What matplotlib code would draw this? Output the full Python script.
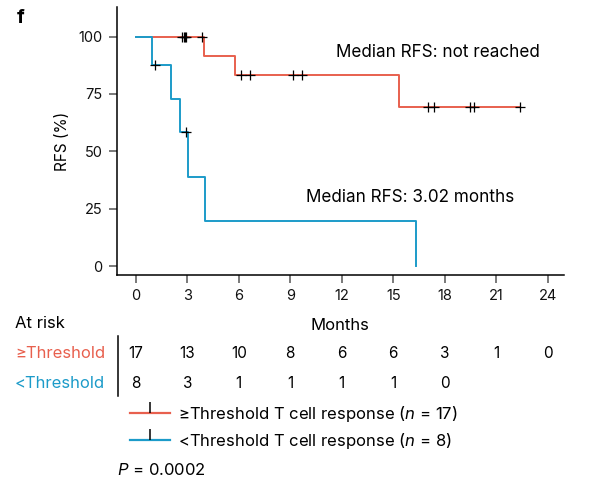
import numpy as np
import matplotlib
matplotlib.use('Agg')
import matplotlib.pyplot as plt
from matplotlib.lines import Line2D

plt.rcParams['font.family'] = ['Inter', 'DejaVu Sans']
plt.rcParams['mathtext.fontset'] = 'custom'
plt.rcParams['mathtext.rm'] = 'Inter'
plt.rcParams['mathtext.it'] = 'Inter:italic'

# patient follow-up (months)
hi_events = [3.95, 5.8, 15.35]
hi_censored = [2.68, 2.81, 2.89, 2.94, 3.88, 6.14, 6.63, 9.15, 9.68,
               17.0, 17.4, 19.5, 19.7, 22.4]
lo_events = [0.95, 2.05, 2.6, 3.02, 4.02, 16.3]
lo_censored = [1.1, 2.92]

risk_times = [0, 3, 6, 9, 12, 15, 18, 21, 24]
hi_at_risk = [17, 13, 10, 8, 6, 6, 3, 1, 0]
lo_at_risk = [8, 3, 1, 1, 1, 1, 0]

red = '#E8604E'
blue = '#1C9BC9'

W, H = 593, 484


def km(events, censored):
    times = np.array(events + censored)
    status = np.array([1] * len(events) + [0] * len(censored))
    order = np.argsort(times)
    times, status = times[order], status[order]
    xs, ys = [0.0], [100.0]
    s = 100.0
    for t in np.unique(times[status == 1]):
        n_risk = np.sum(times >= t)
        d = np.sum((times == t) & (status == 1))
        s *= 1 - d / n_risk
        xs.append(t)
        ys.append(s)
    xs.append(times.max())
    ys.append(s)
    xs, ys = np.array(xs), np.array(ys)
    cens_y = [ys[np.searchsorted(xs, c, side='right') - 1] for c in censored]
    return xs, ys, censored, cens_y


def fx(px):
    return px / W


def fy(py):
    return 1 - py / H


fig = plt.figure(figsize=(5.93, 4.84), dpi=100)
ax = fig.add_axes([fx(116.5), fy(275), fx(564) - fx(116.5), fy(7) - fy(275)])

for ev, ce, col in [(hi_events, hi_censored, red), (lo_events, lo_censored, blue)]:
    xs, ys, cx, cy = km(ev, ce)
    ax.step(xs, ys, where='post', color=col, lw=1.4, zorder=2)
for ev, ce in [(hi_events, hi_censored), (lo_events, lo_censored)]:
    xs, ys, cx, cy = km(ev, ce)
    ax.plot(cx, cy, '+', color='black', ms=7, mew=0.9, zorder=3)

ax.set_xlim(-1.12, 24.95)
ax.set_ylim(-3.9, 112.9)
ax.set_xticks(risk_times)
ax.set_yticks([0, 25, 50, 75, 100])
ax.spines['top'].set_visible(False)
ax.spines['right'].set_visible(False)
for sp in ['left', 'bottom']:
    ax.spines[sp].set_linewidth(1.1)
ax.tick_params(direction='out', length=6, width=1.1, color='#555555',
               labelsize=10.5, labelcolor='#111111', pad=4)
ax.set_ylabel('RFS (%)', fontsize=11, labelpad=6)
ax.set_xlabel('Months', fontsize=12, labelpad=11)

ax.text(17.6, 93.2, 'Median RFS: not reached', fontsize=12.3, ha='center', va='center')
ax.text(16.0, 29.8, 'Median RFS: 3.02 months', fontsize=12.3, ha='center', va='center')

fig.text(fx(17), fy(18), 'f', fontsize=14, fontweight='bold', va='center')

# at-risk table
fig.text(fx(15), fy(324), 'At risk', fontsize=12, va='center')
fig.text(fx(15), fy(353), '\u2265Threshold', fontsize=12, va='center', color=red)
fig.text(fx(15), fy(383), '<Threshold', fontsize=12, va='center', color=blue)
fig.add_artist(Line2D([fx(118), fx(118)], [fy(336), fy(396)], color='black', lw=1.1))
tr = matplotlib.transforms.blended_transform_factory(ax.transData, fig.transFigure)
for t, n in zip(risk_times, hi_at_risk):
    ax.text(t, fy(353), str(n), transform=tr, fontsize=11, ha='center', va='center')
for t, n in zip(risk_times, lo_at_risk):
    ax.text(t, fy(383), str(n), transform=tr, fontsize=11, ha='center', va='center')

handles = [Line2D([], [], color=red, lw=1.6, marker=2, ms=8, mec='black', mew=1.1),
           Line2D([], [], color=blue, lw=1.6, marker=2, ms=8, mec='black', mew=1.1)]
labels = ['\u2265Threshold T cell response ($n$ = 17)',
          '<Threshold T cell response ($n$ = 8)']
fig.legend(handles, labels, loc='upper left', bbox_to_anchor=(fx(123), fy(397)),
           frameon=False, fontsize=12, handlelength=2.4, handletextpad=0.5,
           labelspacing=0.45, borderaxespad=0)

fig.text(fx(117), fy(470), '$P$ = 0.0002', fontsize=12, va='center')

fig.savefig('out.png', dpi=100)
